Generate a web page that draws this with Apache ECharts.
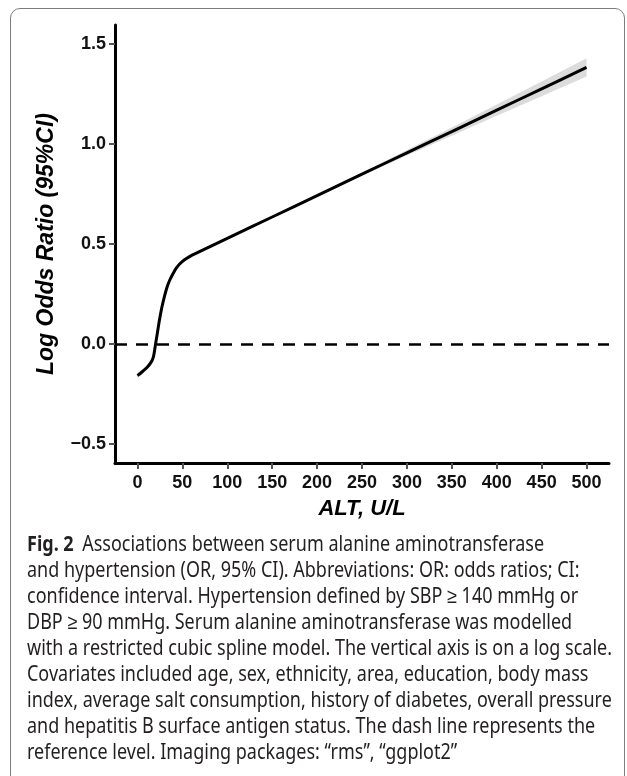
<!DOCTYPE html>
<html lang="en">
  <head>
    <meta charset="UTF-8" />
    <title>ALT and hypertension</title>
    <script src="https://cdn.jsdelivr.net/npm/echarts@6/dist/echarts.min.js"></script>
    <style>
      body { margin: 0; background: #fff; }
      #page { position: relative; width: 627px; height: 776px; overflow: hidden; }
      #frame {
        position: absolute; left: 10px; top: 8px; width: 615px; height: 780px;
        border: 1px solid #7d7d7d; border-radius: 10px; box-sizing: border-box;
      }
      #chart { position: absolute; left: 0; top: 0; width: 627px; height: 776px; }
      #caption {
        position: absolute; left: 27px; top: 530px;
        font-family: "Noto Sans", sans-serif; font-size: 21px; line-height: 26px;
        color: #231f20; transform-origin: 0 0;
      }
      #caption div { white-space: nowrap; }
    </style>
  </head>
  <body>
    <div id="page">
      <div id="frame"></div>
      <div id="chart"></div>
      <div id="caption"></div>
    </div>
    <script>
      // ALT values (U/L) where the spline was read
      const alt = [0, 5, 10, 13, 16, 18, 20, 22, 24.5, 27, 30, 33, 36, 40, 43, 47, 52, 58, 65,
        100, 150, 200, 250, 300, 350, 400, 450, 500];
      // fitted log odds ratio
      const fit = [-0.158, -0.14, -0.12, -0.105, -0.085, -0.06, -0.005, 0.05, 0.12, 0.18, 0.237,
        0.285, 0.32, 0.355, 0.378, 0.4, 0.42, 0.437, 0.453,
        0.528, 0.635, 0.742, 0.849, 0.956, 1.062, 1.169, 1.276, 1.383];
      // 95% CI bounds
      const ciLower = [-0.17, -0.152, -0.132, -0.117, -0.095, -0.07, -0.015, 0.04, 0.11, 0.17, 0.227,
        0.278, 0.313, 0.348, 0.371, 0.393, 0.413, 0.431, 0.447,
        0.524, 0.632, 0.738, 0.841, 0.942, 1.041, 1.141, 1.239, 1.337];
      const ciUpper = [-0.146, -0.128, -0.108, -0.093, -0.075, -0.05, 0.005, 0.06, 0.13, 0.19, 0.247,
        0.292, 0.327, 0.362, 0.385, 0.407, 0.427, 0.443, 0.459,
        0.532, 0.638, 0.746, 0.857, 0.97, 1.083, 1.197, 1.313, 1.429];

      const xTicks = [0, 50, 100, 150, 200, 250, 300, 350, 400, 450, 500];
      const yTicks = [-0.5, 0, 0.5, 1, 1.5];
      const refLevel = 0;

      const captionLines = [
        "Associations between serum alanine aminotransferase",
        "and hypertension (OR, 95% CI). Abbreviations: OR: odds ratios; CI:",
        "confidence interval. Hypertension defined by SBP \u2265 140 mmHg or",
        "DBP \u2265 90 mmHg. Serum alanine aminotransferase was modelled",
        "with a restricted cubic spline model. The vertical axis is on a log scale.",
        "Covariates included age, sex, ethnicity, area, education, body mass",
        "index, average salt consumption, history of diabetes, overall pressure",
        "and hepatitis B surface antigen status. The dash line represents the",
        "reference level. Imaging packages: \u201crms\u201d, \u201cggplot2\u201d",
      ];

      const FONT = '"Liberation Sans", Arial, sans-serif';
      const zip = (a, b) => a.map((v, i) => [v, b[i]]);

      // CI ribbon as one polygon: upper edge left->right, lower edge right->left
      const renderBand = (params, api) => {
        const upper = alt.map((x, i) => api.coord([x, ciUpper[i]]));
        const lower = alt.map((x, i) => api.coord([x, ciLower[i]])).reverse();
        return {
          type: "polygon",
          shape: { points: upper.concat(lower) },
          style: { fill: "#dcdcdc" },
          silent: true,
        };
      };

      const chart = echarts.init(document.getElementById("chart"));
      chart.setOption({
        animation: false,
        backgroundColor: "transparent",
        grid: { left: 115, right: 18, top: 25, bottom: 313, containLabel: false, outerBoundsMode: "none" },
        xAxis: {
          type: "value",
          min: -25,
          max: 525,
          name: "ALT, U/L",
          nameLocation: "middle",
          nameGap: 35,
          nameTextStyle: { fontFamily: FONT, fontSize: 22, fontWeight: "bold", fontStyle: "italic", color: "#000" },
          axisLine: { show: true, onZero: false, lineStyle: { color: "#000", width: 3 } },
          axisTick: { show: true, customValues: xTicks, length: 6, lineStyle: { color: "#555", width: 2 } },
          axisLabel: {
            customValues: xTicks, margin: 11, fontFamily: FONT, fontSize: 18,
            fontWeight: "bold", color: "#111",
          },
          splitLine: { show: false },
        },
        yAxis: {
          type: "value",
          min: -0.595,
          max: 1.595,
          name: "Log Odds Ratio (95%CI)",
          nameLocation: "middle",
          nameGap: 57,
          nameTextStyle: { fontFamily: FONT, fontSize: 23, fontWeight: "bold", fontStyle: "italic", color: "#000" },
          axisLine: { show: true, onZero: false, lineStyle: { color: "#000", width: 3 } },
          axisTick: { show: true, customValues: yTicks, length: 6, lineStyle: { color: "#555", width: 2 } },
          axisLabel: {
            customValues: yTicks, margin: 9, fontFamily: FONT, fontSize: 18,
            fontWeight: "bold", color: "#111",
            formatter: (v) => (v < 0 ? "\u2212" + Math.abs(v).toFixed(1) : v.toFixed(1)),
          },
          splitLine: { show: false },
        },
        series: [
          {
            type: "custom",
            renderItem: renderBand,
            data: [[alt[0], ciLower[0]]],
            silent: true,
            z: 1,
          },
          {
            type: "line",
            data: zip(alt, fit),
            smooth: 0.3,
            symbol: "none",
            z: 3,
            lineStyle: { color: "#000", width: 3 },
            markLine: {
              silent: true,
              symbol: "none",
              label: { show: false },
              lineStyle: { color: "#000", width: 2.5, type: [12, 9] },
              data: [{ yAxis: refLevel }],
            },
          },
        ],
      });

      // caption below the plot
      const cap = document.getElementById("caption");
      captionLines.forEach((t, i) => {
        const line = document.createElement("div");
        if (i === 0) {
          const b = document.createElement("b");
          b.textContent = "Fig. 2";
          b.style.marginRight = "10px";
          line.appendChild(b);
        }
        line.appendChild(document.createTextNode(t));
        cap.appendChild(line);
      });
      // squeeze the caption so the widest line spans 585px like the source
      const widest = cap.children[4].getBoundingClientRect().width;
      cap.style.transform = `scaleX(${585 / widest})`;
    </script>
  </body>
</html>
